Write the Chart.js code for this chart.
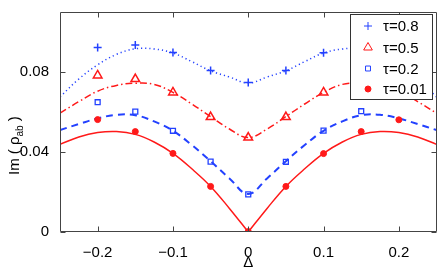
<!DOCTYPE html>
<html>
<head>
<meta charset="utf-8">
<script src="https://cdn.jsdelivr.net/npm/chart.js@4.4.1/dist/chart.umd.min.js"></script>
<style>
	html, body { margin: 0; padding: 0; background: #fff; }
	#wrap { width: 443px; height: 276px; }
</style>
</head>
<body>
<div id="wrap"><canvas id="chart" width="443" height="276"></canvas></div>
<script>
// ---- data
const curveX = [ -0.25, -0.225, -0.2, -0.175, -0.15, -0.125, -0.1, -0.075, -0.05, -0.025, 0,
	0.025, 0.05, 0.075, 0.1, 0.125, 0.15, 0.175, 0.2, 0.225, 0.25 ];
const curveTau08 = [ 0.0675, 0.0765, 0.0836, 0.0888, 0.0916, 0.0915, 0.0895, 0.0852, 0.0806, 0.0775, 0.0745,
	0.0775, 0.0806, 0.0852, 0.0895, 0.0915, 0.0916, 0.0888, 0.0836, 0.0765, 0.0675 ];
const curveTau05 = [ 0.0594, 0.0652, 0.0704, 0.0733, 0.0744, 0.0738, 0.0698, 0.0640, 0.0577, 0.0515, 0.0472,
	0.0515, 0.0577, 0.0640, 0.0698, 0.0738, 0.0744, 0.0733, 0.0704, 0.0652, 0.0594 ];
const curveTau02 = [ 0.0510, 0.0540, 0.0568, 0.0586, 0.0584, 0.0553, 0.0506, 0.0435, 0.0354, 0.0268, 0.0190,
	0.0268, 0.0354, 0.0435, 0.0506, 0.0553, 0.0584, 0.0586, 0.0568, 0.0540, 0.0510 ];
const curveTau001 = [ 0.0438, 0.0475, 0.0497, 0.0502, 0.0488, 0.0450, 0.0393, 0.0316, 0.0228, 0.0118, 0,
	0.0118, 0.0228, 0.0316, 0.0393, 0.0450, 0.0488, 0.0502, 0.0497, 0.0475, 0.0438 ];

const pointX = [ -0.2, -0.15, -0.1, -0.05, 0, 0.05, 0.1, 0.15, 0.2 ];
const pointsTau08 = [ 0.0922, 0.0935, 0.0897, 0.0808, 0.0748, 0.0808, 0.0896, 0.0935, 0.0922 ];
const pointsTau05 = [ 0.0783, 0.0765, 0.0698, 0.0575, 0.0472, 0.0575, 0.0698, 0.0765, 0.0783 ];
const pointsTau02 = [ 0.0649, 0.0602, 0.0506, 0.0352, 0.0188, 0.0351, 0.0507, 0.0604, null ];
const pointsTau001 = [ 0.0562, 0.0502, 0.0393, 0.0228, 0.0002, 0.0228, 0.0392, 0.0502, 0.0561 ];

const seriesLabels = [ 'τ=0.8', 'τ=0.5', 'τ=0.2', 'τ=0.01' ];
const xTicks = [ -0.2, -0.1, 0, 0.1, 0.2 ];
const xTickLabels = [ '\u22120.2', '\u22120.1', '0', '0.1', '0.2' ];
const yTicks = [ 0, 0.04, 0.08 ];
const yTickLabels = [ '0', '0.04', '0.08' ];

const BLUE = 'rgb(35,65,255)';
const RED = 'rgb(255,25,25)';
const FONT = 'Liberation Sans, Arial, sans-serif';

function toXY( xs, ys ) {
	return xs.map( ( x, i ) => ( { x, y: ys[ i ] } ) );
}

// cusp at zero: solid curve is split into two halves
const mid = curveX.indexOf( 0 );

const lineBase = { pointRadius: 0, fill: false, tension: 0.4, borderWidth: 1.5, order: 2 };

const datasets = [
	Object.assign( {}, lineBase, {
		data: toXY( curveX, curveTau08 ), borderColor: BLUE, borderDash: [ 1.2, 3 ]
	} ),
	Object.assign( {}, lineBase, {
		data: toXY( curveX, curveTau05 ), borderColor: RED, borderDash: [ 7, 3, 1.5, 3 ]
	} ),
	Object.assign( {}, lineBase, {
		data: toXY( curveX, curveTau02 ), borderColor: BLUE, borderDash: [ 7, 5 ], borderWidth: 2
	} ),
	Object.assign( {}, lineBase, {
		data: toXY( curveX.slice( 0, mid + 1 ), curveTau001.slice( 0, mid + 1 ) ), borderColor: RED
	} ),
	Object.assign( {}, lineBase, {
		data: toXY( curveX.slice( mid ), curveTau001.slice( mid ) ), borderColor: RED
	} )
];

// markers
const markerSets = [
	{ label: seriesLabels[ 0 ], data: toXY( pointX, pointsTau08 ), pointStyle: 'cross',
		pointRadius: 4, borderColor: BLUE, backgroundColor: BLUE, pointBorderWidth: 1.5 },
	{ label: seriesLabels[ 1 ], data: toXY( pointX, pointsTau05 ), pointStyle: 'triangle',
		pointRadius: 5, borderColor: RED, backgroundColor: 'rgba(0,0,0,0)', pointBorderWidth: 1.5 },
	{ label: seriesLabels[ 2 ], data: toXY( pointX, pointsTau02 ), pointStyle: 'rect',
		pointRadius: 3.5, borderColor: BLUE, backgroundColor: 'rgba(0,0,0,0)', pointBorderWidth: 1.3 },
	{ label: seriesLabels[ 3 ], data: toXY( pointX, pointsTau001 ), pointStyle: 'circle',
		pointRadius: 3, borderColor: RED, backgroundColor: RED, pointBorderWidth: 1 }
];
markerSets.forEach( ( m ) => {
	datasets.push( Object.assign( { showLine: false, order: 1 }, m ) );
} );

// ---- box, inward ticks, axis titles, legend
const framePlugin = {
	id: 'frame',
	afterDraw( chart ) {
		const ctx = chart.ctx;
		const a = chart.chartArea;
		const xs = chart.scales.x;
		const ys = chart.scales.y;
		const L = Math.round( a.left ) + 0.5;
		const R = Math.round( a.right ) - 0.5;
		const T = Math.round( a.top ) + 0.5;
		const B = Math.round( a.bottom ) - 0.5;
		const tick = 5;

		ctx.save();
		ctx.lineWidth = 1;
		ctx.strokeStyle = '#444';
		ctx.beginPath();
		ctx.rect( L, T, R - L, B - T );
		ctx.stroke();

		ctx.beginPath();
		xTicks.forEach( ( v ) => {
			const px = Math.round( xs.getPixelForValue( v ) ) + 0.5;
			ctx.moveTo( px, B ); ctx.lineTo( px, B - tick );
			ctx.moveTo( px, T ); ctx.lineTo( px, T + tick );
		} );
		yTicks.forEach( ( v ) => {
			const py = Math.round( ys.getPixelForValue( v ) ) + 0.5;
			ctx.moveTo( L, py ); ctx.lineTo( L + tick, py );
			ctx.moveTo( R, py ); ctx.lineTo( R - tick, py );
		} );
		ctx.stroke();

		// x title
		ctx.fillStyle = '#000';
		ctx.font = '15px ' + FONT;
		ctx.textAlign = 'center';
		ctx.textBaseline = 'middle';
		ctx.fillText( '\u0394', ( a.left + a.right ) / 2, 263 );

		// y title with subscript
		ctx.translate( 19, 175 );
		ctx.rotate( -Math.PI / 2 );
		ctx.textAlign = 'left';
		ctx.textBaseline = 'alphabetic';
		let cx = 0;
		const parts = [ [ 'Im ( \u03c1', 15, 0 ], [ 'ab', 10, 4 ], [ ' )', 15, 0 ] ];
		parts.forEach( ( [ txt, size, drop ] ) => {
			ctx.font = size + 'px ' + FONT;
			ctx.fillText( txt, cx, drop );
			cx += ctx.measureText( txt ).width;
		} );
		ctx.restore();

		// legend
		ctx.save();
		const lx = 350.5, ly = 14.5, lw = 82, lh = 85;
		ctx.fillStyle = '#fff';
		ctx.fillRect( lx, ly, lw, lh );
		ctx.strokeStyle = '#333';
		ctx.lineWidth = 1;
		ctx.strokeRect( lx, ly, lw, lh );
		const rowY = [ 26, 47.5, 68.5, 89 ];
		markerSets.forEach( ( m, i ) => {
			ctx.strokeStyle = m.borderColor;
			ctx.fillStyle = m.backgroundColor;
			Chart.helpers.drawPoint( ctx, {
				pointStyle: m.pointStyle,
				radius: m.pointRadius,
				borderWidth: m.pointBorderWidth,
				rotation: 0
			}, 368, rowY[ i ] );
			ctx.fillStyle = '#000';
			ctx.font = '15px ' + FONT;
			ctx.textAlign = 'left';
			ctx.textBaseline = 'middle';
			ctx.fillText( m.label, 383, rowY[ i ] + 1 );
		} );
		ctx.restore();
	}
};

new Chart( document.getElementById( 'chart' ), {
	type: 'line',
	data: { datasets },
	options: {
		responsive: false,
		animation: false,
		events: [],
		layout: { padding: { left: 0, top: 10, right: 6, bottom: 0 } },
		plugins: { legend: { display: false }, tooltip: { enabled: false } },
		scales: {
			x: {
				type: 'linear',
				min: -0.25,
				max: 0.25,
				grid: { display: false },
				border: { display: false },
				afterBuildTicks: ( s ) => { s.ticks = xTicks.map( ( v ) => ( { value: v } ) ); },
				afterFit: ( s ) => { s.height = 44; },
				ticks: {
					autoSkip: false,
					maxRotation: 0,
					padding: 4,
					color: '#000',
					font: { family: FONT, size: 15 },
					callback: ( v, i ) => xTickLabels[ i ]
				}
			},
			y: {
				type: 'linear',
				min: 0,
				max: 0.11,
				grid: { display: false },
				border: { display: false },
				afterBuildTicks: ( s ) => { s.ticks = yTicks.map( ( v ) => ( { value: v } ) ); },
				afterFit: ( s ) => { s.width = 60; },
				ticks: {
					autoSkip: false,
					padding: 3,
					color: '#000',
					font: { family: FONT, size: 15 },
					callback: ( v, i ) => yTickLabels[ i ]
				}
			}
		}
	},
	plugins: [ framePlugin ]
} );
</script>
</body>
</html>
